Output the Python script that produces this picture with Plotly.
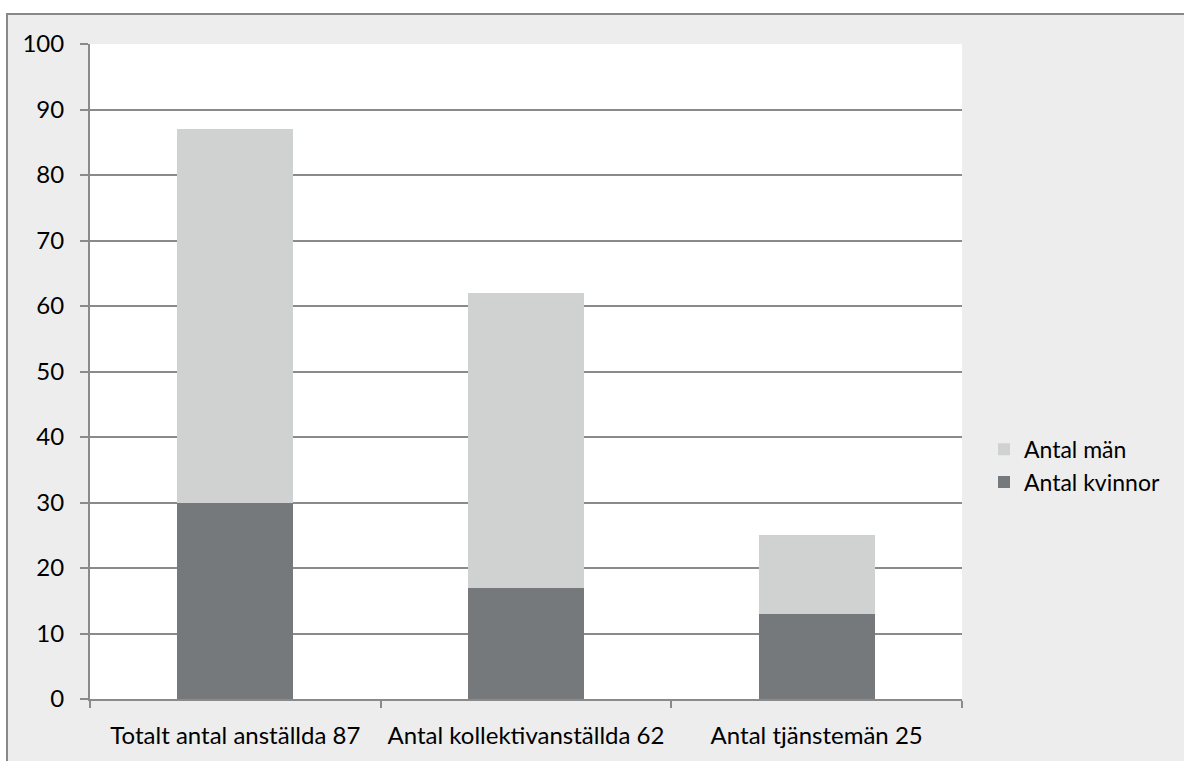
import plotly.graph_objects as go

categories = ["Totalt antal anställda 87", "Antal kollektivanställda 62", "Antal tjänstemän 25"]
kvinnor = [30, 17, 13]
man = [57, 45, 12]

y_ticks = list(range(0, 101, 10))

FONT = "Lato, 'Noto Sans', sans-serif"
AXIS_GRAY = "#8A8A8A"
FS = 24

fig = go.Figure()
fig.add_trace(go.Bar(name="Antal kvinnor", x=categories, y=kvinnor,
                     marker=dict(color="#76797B", line=dict(width=0))))
fig.add_trace(go.Bar(name="Antal män", x=categories, y=man,
                     marker=dict(color="#D0D2D2", line=dict(width=0))))

W, H = 1184, 761
L, R, T, B = 90, 222, 44, 60
pw, ph = W - L - R, H - T - B

def px_x(x):
    return (x - L) / pw

def px_y(y):
    return (H - B - y) / ph

# outer frame around the whole chart
fig.add_shape(type="rect", xref="paper", yref="paper",
              x0=px_x(7), x1=px_x(1195), y0=px_y(775), y1=px_y(14),
              line=dict(color="#888888", width=2), fillcolor="#EDEDED",
              layer="below")
# white plotting area on top of the frame fill
fig.add_shape(type="rect", xref="paper", yref="paper",
              x0=0, x1=1, y0=0, y1=1,
              line=dict(width=0), fillcolor="white", layer="below")

fig.update_layout(
    width=W, height=H,
    margin=dict(l=L, r=R, t=T, b=B),
    barmode="stack",
    bargap=0.6,
    paper_bgcolor="white",
    plot_bgcolor="white",
    font=dict(family=FONT, size=FS, color="black"),
    showlegend=True,
    legend=dict(x=px_x(984), y=px_y(467), xanchor="left", yanchor="middle",
                traceorder="reversed", bgcolor="rgba(0,0,0,0)",
                font=dict(size=FS - 1), itemwidth=30, tracegroupgap=2),
    xaxis=dict(
        tickson="boundaries", ticks="outside", ticklen=7, tickwidth=2,
        tickcolor=AXIS_GRAY, showline=True, linecolor=AXIS_GRAY, linewidth=2,
        showgrid=False, tickfont=dict(size=FS), fixedrange=True,
        ticklabelstandoff=14,
    ),
    yaxis=dict(
        range=[0, 100], tickvals=y_ticks, ticks="outside", ticklen=8,
        tickwidth=2, tickcolor=AXIS_GRAY, showline=True, linecolor=AXIS_GRAY,
        linewidth=2, showgrid=True, gridcolor=AXIS_GRAY, gridwidth=2,
        zeroline=False, tickfont=dict(size=FS), ticklabelstandoff=11,
    ),
)

fig.write_html("out.html")
